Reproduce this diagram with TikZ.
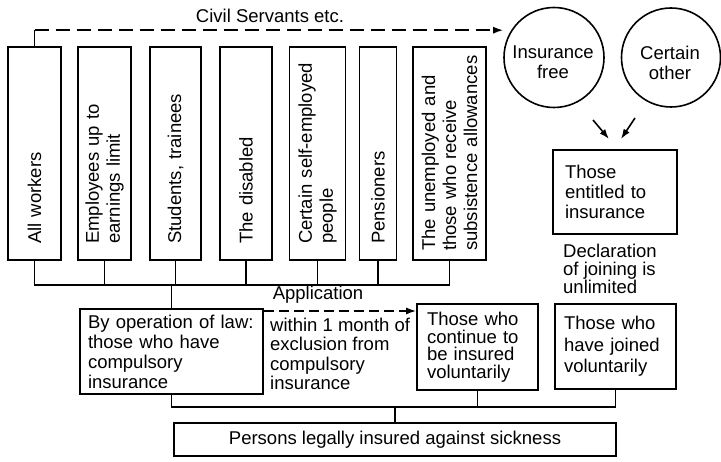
\documentclass[tikz,border=0pt]{standalone}
\usepackage{fontspec}
\setmainfont{Liberation Sans}
\usetikzlibrary{arrows.meta}
\hyphenpenalty=10000
\exhyphenpenalty=10000
\begin{document}
\begin{tikzpicture}[x=1pt,y=-1pt,
  every node/.style={font=\fontsize{18.5}{20}\selectfont},
  wire/.style={line width=1.6pt},
  arrowed/.style={-{Latex[length=10pt,width=7pt]}},
  vbox/.style={draw,line width=1.6pt,rotate=90,minimum width=213pt,
    inner ysep=0pt,inner xsep=16pt,text width=181pt,align=left,
    font=\fontsize{18.5}{21}\selectfont},
  hbox/.style={draw,line width=1.6pt,align=left,inner ysep=0pt},
  ring/.style={draw,line width=1.6pt,circle,inner sep=0pt},
  label text/.style={inner sep=0pt}
]
\useasboundingbox (0,0) rectangle (721,462);

% groups of people (upright boxes with vertical text)
\node[vbox,minimum height=53pt] (b1) at (34.5,153.5) {All workers};
\node[vbox,minimum height=53pt] (b2) at (104.5,153.5) {Employees up to\\earnings limit};
\node[vbox,minimum height=51pt] (b3) at (175.5,153.5) {Students, trainees};
\node[vbox,minimum height=52pt] (b4) at (246,153.5) {The disabled};
\node[vbox,minimum height=56pt] (b5) at (317.5,153.5) {Certain self-employed\\people};
\node[vbox,minimum height=37pt] (b6) at (378,153.5) {Pensioners};
\node[vbox,minimum height=73pt,inner xsep=9pt,text width=195pt] (b7) at (449.5,153.5)
  {The unemployed and\\those who receive\\\mbox{subsistence allowances}};

% circles on the right
\node[ring,minimum size=100pt] (ins) at (554,57.5) {};
\node[label text,align=center] (insT) at (553,62.5) {Insurance\\free};
\node[ring,minimum size=99pt] (oth) at (671,57.5) {};
\node[label text,align=center] (othT) at (670,62.5) {Certain\\other};

% voluntary side
\node[hbox,minimum width=124pt,minimum height=84pt,inner xsep=12pt,text width=100pt]
  (ent) at (615,192) {Those\\entitled to\\insurance};
\node[label text,align=left,anchor=north west,font=\fontsize{18.5}{18}\selectfont]
  (decl) at (563,244) {Declaration\\of joining is\\unlimited};

% middle row
\node[hbox,minimum width=183pt,minimum height=85pt,inner xsep=8pt,text width=167pt]
  (law) at (171.5,351.5) {By operation of law:\\those who have\\compulsory\\insurance};
\node[label text,align=left,anchor=north west,font=\fontsize{18.5}{19.3}\selectfont]
  (within) at (270,318) {within 1 month of\\exclusion from\\compulsory\\insurance};
\node[hbox,minimum width=121pt,minimum height=86pt,inner xsep=10pt,text width=101pt,
  font=\fontsize{18.5}{17.5}\selectfont]
  (cont) at (477.5,347) {Those who\\continue to\\be insured\\voluntarily};
\node[hbox,minimum width=121pt,minimum height=85pt,inner xsep=9pt,text width=103pt,
  font=\fontsize{18.5}{21.5}\selectfont]
  (join) at (615.5,346.5) {Those who\\have joined\\voluntarily};

% result
\node[hbox,align=center,minimum width=442pt,minimum height=33pt]
  (final) at (395,439.5) {Persons legally insured against sickness};

% free labels
\node[label text,anchor=base] (civ) at (270,23) {Civil Servants etc.};
\node[label text,anchor=base] (appl) at (318,300) {Application};

% bus levels
\coordinate (busA) at (0,285);
\coordinate (busB) at (0,407);
\coordinate (dashA) at (0,311);

% upper bus
\draw[wire] (b1.west) |- (b7.west |- busA) -- (b7.west);
\foreach \n in {b2,b3,b4,b5,b6} \draw[wire] (\n.west) -- (\n.west |- busA);
\draw[wire] (law.north) -- (law.north |- busA);

% civil servants route
\draw[wire] (b1.east) -- ++(0,-16) coordinate (cs);
\draw[wire,dash pattern=on 14pt off 7pt,arrowed] (cs) -- (cs -| ins.west);

% application route
\draw[wire,dash pattern=on 10pt off 5pt,arrowed] (law.east |- dashA) -- (cont.west |- dashA);

% lower bus
\draw[wire] (law.south) |- (join.south |- busB) -- (join.south);
\draw[wire] (cont.south) -- (cont.south |- busB);
\draw[wire] (final.north) -- (final.north |- busB);

% arrows into "entitled"
\coordinate (a1s) at (593,120);
\coordinate (a1e) at (609,139);
\coordinate (a2s) at (635,118);
\coordinate (a2e) at (621,139);
\draw[wire,arrowed] (a1s) -- (a1e);
\draw[wire,arrowed] (a2s) -- (a2e);
\end{tikzpicture}
\end{document}
